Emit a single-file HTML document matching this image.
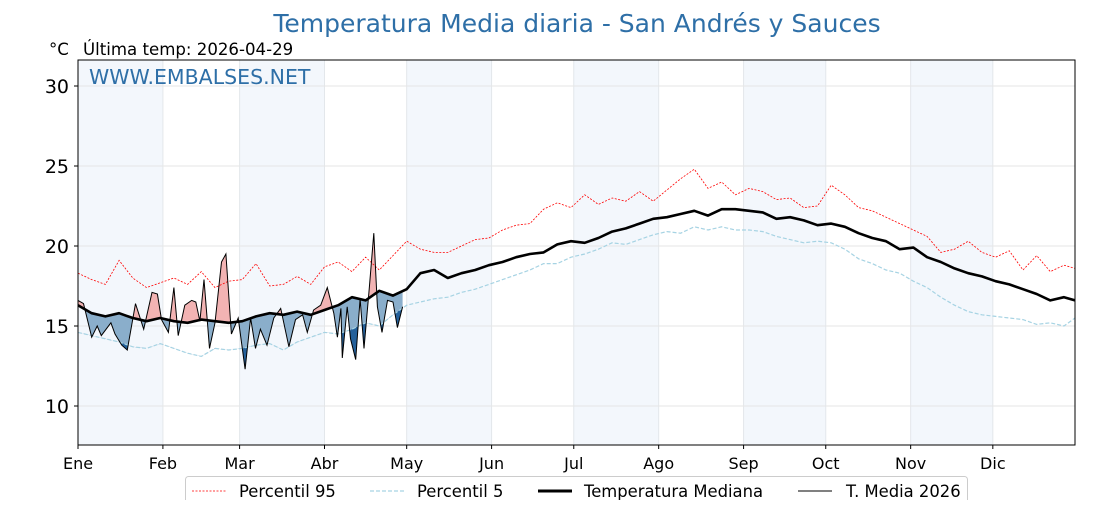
<!DOCTYPE html>
<html><head><meta charset="utf-8"><style>
body{margin:0;background:#fff;}
svg text{font-family:"DejaVu Sans","Liberation Sans",sans-serif;}
</style></head><body>
<svg id="chart" width="1120" height="500" viewBox="0 0 1120 500" xmlns="http://www.w3.org/2000/svg">
<text x="577" y="32" text-anchor="middle" font-size="25" fill="#2e6fa7">Temperatura Media diaria - San Andrés y Sauces</text>
<text x="49" y="55" font-size="16.6" fill="#000">°C</text>
<text x="83" y="55" font-size="16.6" fill="#000">Última temp: 2026-04-29</text>
<g id="bands"></g><g id="grid"></g>
<defs>
<clipPath id="aboveMed"><path id="aboveMedPath"/></clipPath>
<clipPath id="belowMed"><path id="belowMedPath"/></clipPath>
<clipPath id="belowP5"><path id="belowP5Path"/></clipPath>
<clipPath id="plotClip"><rect x="78" y="60" width="997" height="385"/></clipPath>
</defs>
<g id="series" clip-path="url(#plotClip)"></g>
<rect x="78" y="60" width="997" height="385" fill="none" stroke="#000" stroke-width="1"/>
<g id="axes"></g>
<text x="89" y="84" font-size="20.5" fill="#2e6fa7">WWW.EMBALSES.NET</text>
<g>
<rect x="185.5" y="476.5" width="782" height="30" rx="3" fill="#fff" stroke="#ccc"/>
<line x1="192" y1="491" x2="226" y2="491" stroke="red" stroke-width="0.8" stroke-dasharray="2,1.5"/>
<text x="239" y="497" font-size="16.4">Percentil 95</text>
<line x1="370" y1="491" x2="404" y2="491" stroke="#a6d3e3" stroke-width="1.2" stroke-dasharray="4,2"/>
<text x="417" y="497" font-size="16.4">Percentil 5</text>
<line x1="538" y1="491" x2="572" y2="491" stroke="#000" stroke-width="3"/>
<text x="584" y="497" font-size="16.4">Temperatura Mediana</text>
<line x1="798" y1="491" x2="832" y2="491" stroke="#000" stroke-width="1"/>
<text x="846" y="497" font-size="16.4">T. Media 2026</text>
</g>
</svg>
<script>
const months=["Ene","Feb","Mar","Abr","May","Jun","Jul","Ago","Sep","Oct","Nov","Dic"];
const monthStartDays=[0,31,59,90,120,151,181,212,243,273,304,334];
const yTicks=[10,15,20,25,30];
const median=[16.3,15.8,15.6,15.8,15.5,15.3,15.5,15.3,15.2,15.4,15.3,15.2,15.3,15.6,15.8,15.7,15.9,15.7,16.0,16.3,16.8,16.6,17.2,16.9,17.3,18.3,18.5,18.0,18.3,18.5,18.8,19.0,19.3,19.5,19.6,20.1,20.3,20.2,20.5,20.9,21.1,21.4,21.7,21.8,22.0,22.2,21.9,22.3,22.3,22.2,22.1,21.7,21.8,21.6,21.3,21.4,21.2,20.8,20.5,20.3,19.8,19.9,19.3,19.0,18.6,18.3,18.1,17.8,17.6,17.3,17.0,16.6,16.8,16.6];
const p95=[18.3,17.9,17.6,19.1,18.0,17.4,17.7,18.0,17.6,18.4,17.4,17.8,17.9,18.9,17.5,17.6,18.1,17.6,18.7,19.0,18.4,19.3,18.5,19.4,20.3,19.8,19.6,19.6,20.0,20.4,20.5,21.0,21.3,21.4,22.3,22.7,22.4,23.2,22.6,23.0,22.8,23.4,22.8,23.5,24.2,24.8,23.6,24.0,23.2,23.6,23.4,22.9,23.0,22.4,22.5,23.8,23.2,22.4,22.2,21.8,21.4,21.0,20.6,19.6,19.8,20.3,19.6,19.3,19.7,18.5,19.4,18.4,18.8,18.6];
const p5=[14.6,14.4,14.2,14.0,13.7,13.6,13.9,13.6,13.3,13.1,13.6,13.5,13.6,13.8,13.9,13.5,14.0,14.3,14.6,14.5,14.8,15.2,15.0,15.7,16.3,16.5,16.7,16.8,17.1,17.3,17.6,17.9,18.2,18.5,18.9,18.9,19.3,19.5,19.8,20.2,20.1,20.4,20.7,20.9,20.8,21.2,21.0,21.2,21.0,21.0,20.9,20.6,20.4,20.2,20.3,20.2,19.8,19.2,18.9,18.5,18.3,17.8,17.4,16.8,16.3,15.9,15.7,15.6,15.5,15.4,15.1,15.2,15.0,15.5];
const days2026=[0,2,5,7,8.5,12,13.5,16,18,21,24,27,29,30.5,33,35,36.6,39,41.5,43,44.5,46,48,50,52.4,54,56,58.5,61,63,64.8,66.6,69,71.5,74,77,79.4,82,83.7,86,88.6,91,93.4,94.7,96,96.5,98.3,99.5,101.4,103,104.4,106.3,108,109.3,111,113,115,116.6,118.5];
const temp2026=[16.6,16.4,14.3,15.0,14.4,15.2,14.5,13.8,13.5,16.4,14.8,17.1,17.0,15.4,14.6,17.4,14.4,16.3,16.6,16.5,15.3,17.9,13.6,15.2,19.0,19.5,14.5,15.5,12.3,15.5,13.6,14.8,13.8,15.5,16.1,13.7,15.4,15.7,14.6,16.0,16.3,17.4,15.8,14.3,16.1,13.0,16.2,14.2,12.9,16.7,13.6,17.3,20.8,16.2,14.6,16.6,16.5,14.9,16.2];

const X0=78,X1=1075,Y0=60,Y1=445;
const x=d=>X0+d*(X1-X0)/364;
const y=v=>406-(v-10)*16;
const NS="http://www.w3.org/2000/svg";
function mk(tag,attrs,parent){const e=document.createElementNS(NS,tag);for(const k in attrs)e.setAttribute(k,attrs[k]);parent.appendChild(e);return e;}
const statDays=median.map((_,i)=>Math.min(i*5,364));
const bands=document.getElementById('bands'),grid=document.getElementById('grid'),axes=document.getElementById('axes'),series=document.getElementById('series');
monthStartDays.forEach((d,i)=>{
  const end=i<11?monthStartDays[i+1]:365;
  if(i%2===0){const r=mk('rect',{x:x(d),y:Y0,width:x(end)-x(d),height:Y1-Y0,fill:'#f3f7fc'},bands);
    
    }
  const g=mk('line',{x1:x(d),x2:x(d),y1:Y0,y2:Y1,stroke:'#e3e7eb','stroke-width':1},grid);
  
  
  mk('line',{x1:x(d),x2:x(d),y1:Y1,y2:Y1+4,stroke:'#000'},axes);
  const t=mk('text',{x:x(d),y:Y1+24,'font-size':16,'text-anchor':'middle'},axes);
  t.textContent=months[i];
  
  
});
yTicks.forEach(v=>{
  const g=mk('line',{x1:X0,x2:X1,y1:y(v),y2:y(v),stroke:'#e6e6e6','stroke-width':1},grid);
  
  
  mk('line',{x1:X0-4,x2:X0,y1:y(v),y2:y(v),stroke:'#000'},axes);
  const t=mk('text',{x:X0-9,y:y(v)+7,'font-size':19,'text-anchor':'end'},axes);
  t.textContent=v;
  
  
});
const line=(ds,vs)=>ds.map((d,i)=>(i?'L':'M')+x(d).toFixed(1)+','+y(vs[i]).toFixed(1)).join('');
const medPath=line(statDays,median);
const p5Path=line(statDays,p5);
document.getElementById('aboveMedPath').setAttribute('d',medPath+`L${X1},${Y0-10}L${X0},${Y0-10}Z`);
document.getElementById('belowMedPath').setAttribute('d',medPath+`L${X1},${Y1+10}L${X0},${Y1+10}Z`);
document.getElementById('belowP5Path').setAttribute('d',p5Path+`L${X1},${Y1+10}L${X0},${Y1+10}Z`);
const lastD=days2026[days2026.length-1];
function interp(ds,vs,d){for(let i=1;i<ds.length;i++){if(d<=ds[i]){const t=(d-ds[i-1])/(ds[i]-ds[i-1]);return vs[i-1]+t*(vs[i]-vs[i-1]);}}return vs[vs.length-1];}
let back='';for(let d=lastD;d>=0;d-=1){back+=`L${x(d).toFixed(1)},${y(interp(statDays,median,d)).toFixed(1)}`;}
back+=`L${x(0)},${y(median[0])}Z`;
const areaD=line(days2026,temp2026)+back;
let p5back='';for(let d=lastD;d>=0;d-=1){p5back+=`L${x(d).toFixed(1)},${y(interp(statDays,p5,d)).toFixed(1)}`;}
p5back+=`L${x(0)},${y(p5[0])}Z`;
const a1=mk('path',{d:areaD,fill:'#f2b3b3','clip-path':'url(#aboveMed)'},series);


const a2=mk('path',{d:areaD,fill:'#8aaecb','clip-path':'url(#belowMed)'},series);


const a3=mk('path',{d:line(days2026,temp2026)+p5back,fill:'#24609a','clip-path':'url(#belowP5)'},series);


const lp95=mk('path',{d:line(statDays,p95),fill:'none',stroke:'red','stroke-width':0.8,'stroke-dasharray':'2,1.5'},series);


const lp5=mk('path',{d:p5Path,fill:'none',stroke:'#a6d3e3','stroke-width':1.2,'stroke-dasharray':'4,2'},series);


const lm=mk('path',{d:medPath,fill:'none',stroke:'#000','stroke-width':2.6,'stroke-linejoin':'round'},series);


const l26=mk('path',{d:line(days2026,temp2026),fill:'none',stroke:'#000','stroke-width':1},series);


</script>
</body></html>
